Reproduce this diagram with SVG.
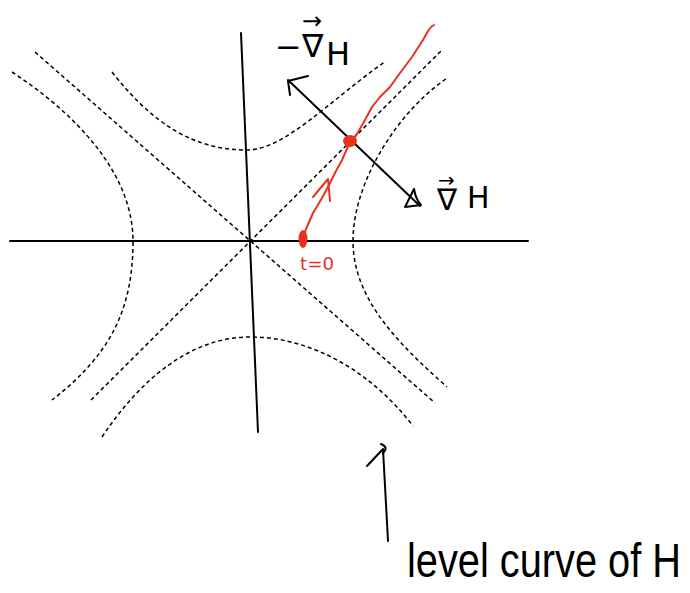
<svg xmlns="http://www.w3.org/2000/svg" width="690" height="593" viewBox="0 0 690 593">
<style>
.ax{fill:none;stroke:#000;stroke-width:2;stroke-linecap:round;stroke-linejoin:round}
.dash{fill:none;stroke:#000;stroke-width:1.5;stroke-dasharray:4 3}
.red{fill:none;stroke:#e8321e;stroke-width:2;stroke-linecap:round;stroke-linejoin:round}
.redfill{fill:#e8321e;stroke:none}
.lbl{font-family:"DejaVu Sans",sans-serif;fill:#000}
.hand{font-family:"Liberation Sans",sans-serif;fill:#000}
.redtxt{font-family:"DejaVu Sans",sans-serif;fill:#e8321e}
</style>
<rect width="690" height="593" fill="#fff"/>
<g id="axes">
<path class="ax" d="M10,241 L528,241"/>
<path class="ax" d="M241,33 L258,432"/>
</g>
<g id="asymptotes">
<path class="dash" d="M35,52 L435,403"/>
<path class="dash" d="M91,400 L442,50"/>
</g>
<g id="level-curves">
<path class="dash" d="M12,72 C70,110 133,170 133,241 C133,310 110,355 52,400"/>
<path class="dash" d="M446,79 C400,110 353,180 353,241 C353,300 400,345 447,387"/>
<path class="dash" d="M112,72 C150,120 190,150 247,150 C285,150 330,100 386,61"/>
<path class="dash" d="M102,437 C140,380 190,337 250,337 C310,337 370,370 413,426"/>
</g>
<g id="gradient-arrow">
<path class="ax" d="M288,80 L420,206"/>
<path class="ax" d="M290,95 L288,81 L308,76"/>
<path class="ax" d="M405,207 L414,189 Q416,200 421,205 Z"/>
</g>
<g id="trajectory">
<path class="red" d="M303,238 L306,229 L313,213 L322,198 L330,183 L336,171 L342,160 L350,142 L357,134 L361,127 L365,120 L372,107 L380,97 L390,87 L400,73 L412,57 L423,40 L428,31 L431,27 L434,25"/>
<path class="red" d="M313,197 L328,179 L330,201"/>
<ellipse class="redfill" cx="350" cy="141" rx="7" ry="6"/>
<ellipse class="redfill" cx="303" cy="239" rx="4.5" ry="9"/>
</g>
<g id="labels">
<text class="lbl" font-size="32"><tspan x="275" y="58">−</tspan><tspan x="302" y="57">∇</tspan><tspan x="326" y="65">H</tspan></text>
<text class="lbl" font-size="24" x="302" y="29">→</text>
<text class="lbl" font-size="30"><tspan x="437" y="210">∇</tspan><tspan x="467" y="208">H</tspan></text>
<text class="lbl" font-size="20" x="438" y="187">→</text>
<text class="redtxt" font-size="18" x="300" y="270" textLength="34" lengthAdjust="spacingAndGlyphs">t=0</text>
</g>
<g id="level-curve-note">
<path class="ax" d="M367,466 L383,449 L388,541"/>
<path class="ax" d="M381,444 Q389,447 383,453"/>
<text class="hand" font-size="40" x="407" y="577" textLength="274" lengthAdjust="spacingAndGlyphs" transform="translate(0,577) scale(1,1.2) translate(0,-577)">level curve of H</text>
</g>
</svg>
